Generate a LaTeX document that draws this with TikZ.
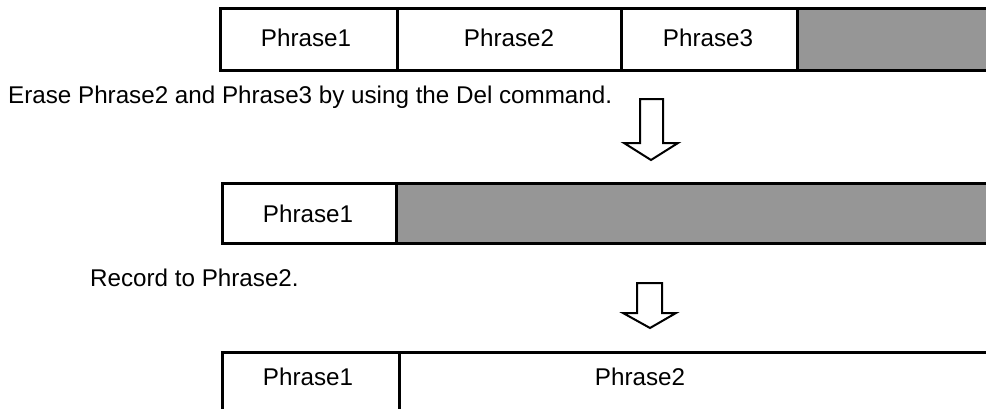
\documentclass[tikz,border=0pt]{standalone}
\usepackage{fontspec}
\setmainfont{Liberation Sans}
\definecolor{cellgray}{HTML}{969696}
\begin{document}
\begin{tikzpicture}[x=1pt,y=-1pt,
  box/.style={draw=black,line width=3pt},
  lbl/.style={inner sep=0pt,anchor=base,font=\fontsize{24.2}{29}\selectfont},
  note/.style={inner sep=0pt,anchor=base west,font=\fontsize{24.2}{29}\selectfont},
  bigarrow/.style={draw=black,line width=2pt,fill=white,line join=miter}]
\useasboundingbox (0,0) rectangle (986,408);
\begin{scope}
\clip (0,0) rectangle (986,408);
% row 1
\fill[cellgray] (797,8) rectangle (1010,70);
\draw[box] (220,8) rectangle (1010,70);
\draw[box] (397,8) -- (397,70);
\draw[box] (621,8) -- (621,70);
\draw[box] (797,8) -- (797,70);
% row 2
\fill[cellgray] (396,183) rectangle (1010,243);
\draw[box] (222,183) rectangle (1010,243);
\draw[box] (396,183) -- (396,243);
% row 3
\draw[box] (222,352) rectangle (1010,420);
\draw[box] (399,352) -- (399,420);
\end{scope}
\node[lbl] (r1a) at (306,46) {Phrase1};
\node[lbl] (r1b) at (509,46) {Phrase2};
\node[lbl] (r1c) at (708,46) {Phrase3};
\node[lbl] (r2a) at (308,222) {Phrase1};
\node[lbl] (r3a) at (308,385) {Phrase1};
\node[lbl] (r3b) at (640,385) {Phrase2};
\node[note] (t1) at (8,103) {Erase Phrase2 and Phrase3 by using the Del command.};
\node[note] (t2) at (90,286) {Record to Phrase2.};
\draw[bigarrow] (640,99) -- (640,143) -- (624,143) -- (651,160) -- (678,143) -- (663,143) -- (663,99) -- cycle;
\draw[bigarrow] (637,283) -- (637,313) -- (623,313) -- (650,328) -- (676,313) -- (662,313) -- (662,283) -- cycle;
\end{tikzpicture}
\end{document}
